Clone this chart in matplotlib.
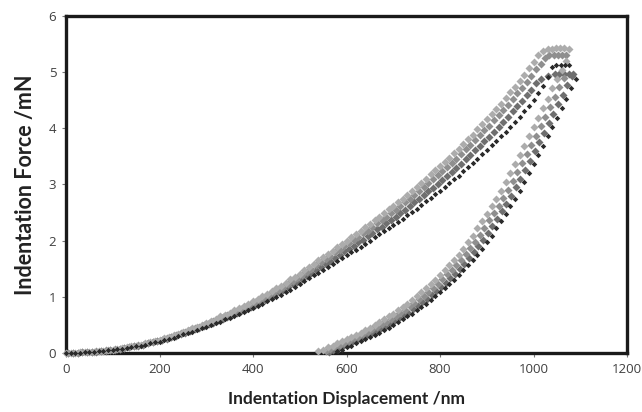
import matplotlib.pyplot as plt

plt.rcParams['font.family'] = ['Open Sans', 'DejaVu Sans']

# ---- data (displacement nm, force mN) --------------------------------------
x_grid_a = [0, 10, 20, 30, 40, 50, 60, 70, 80, 90, 100, 110, 120, 130, 140,
            150, 160, 170, 180, 190, 200, 210, 220, 230, 240, 250, 260, 270,
            280, 290, 300, 310, 320, 330, 340, 350, 360, 370, 380, 390, 400,
            410, 420, 430, 440, 450, 460, 470, 480, 490, 500, 510, 520, 530,
            540, 550, 560, 570, 580, 590, 600, 610, 620, 630, 640, 650, 660,
            670, 680, 690, 700, 710, 720, 730, 740, 750, 760, 770, 780, 790,
            800, 810, 820, 830, 840, 850, 860, 870, 880, 890, 900, 910, 920,
            930, 940, 950, 960, 970, 980, 990, 1000]
x_grid_b = [5, 15, 25, 35, 45, 55, 65, 75, 85, 95, 105, 115, 125, 135, 145,
            155, 165, 175, 185, 195, 205, 215, 225, 235, 245, 255, 265, 275,
            285, 295, 305, 315, 325, 335, 345, 355, 365, 375, 385, 395, 405,
            415, 425, 435, 445, 455, 465, 475, 485, 495, 505, 515, 525, 535,
            545, 555, 565, 575, 585, 595, 605, 615, 625, 635, 645, 655, 665,
            675, 685, 695, 705, 715, 725, 735, 745, 755, 765, 775, 785, 795,
            805, 815, 825, 835, 845, 855, 865, 875, 885, 895, 905, 915, 925,
            935, 945, 955, 965, 975, 985, 995, 1005]

# loading branches (four tests)
load_a = [0.00, 0.00, 0.00, 0.01, 0.01, 0.02, 0.02, 0.03, 0.04, 0.05, 0.06,
          0.07, 0.09, 0.10, 0.12, 0.13, 0.15, 0.17, 0.19, 0.21, 0.24, 0.26,
          0.29, 0.32, 0.34, 0.37, 0.41, 0.44, 0.47, 0.50, 0.54, 0.57, 0.61,
          0.65, 0.68, 0.72, 0.76, 0.80, 0.83, 0.88, 0.92, 0.96, 1.01, 1.05,
          1.10, 1.15, 1.20, 1.25, 1.31, 1.36, 1.41, 1.47, 1.53, 1.59, 1.65,
          1.71, 1.77, 1.82, 1.88, 1.94, 2.00, 2.06, 2.12, 2.18, 2.24, 2.30,
          2.36, 2.43, 2.49, 2.56, 2.62, 2.69, 2.75, 2.82, 2.89, 2.96, 3.03,
          3.10, 3.18, 3.25, 3.33, 3.40, 3.48, 3.56, 3.64, 3.72, 3.81, 3.89,
          3.98, 4.07, 4.16, 4.25, 4.34, 4.44, 4.54, 4.64, 4.74, 4.85, 4.95,
          5.07, 5.18]
load_b = [0.00, 0.00, 0.00, 0.01, 0.01, 0.02, 0.03, 0.04, 0.05, 0.06, 0.07,
          0.08, 0.09, 0.11, 0.12, 0.14, 0.15, 0.18, 0.20, 0.22, 0.24, 0.27,
          0.29, 0.32, 0.35, 0.38, 0.41, 0.44, 0.47, 0.50, 0.53, 0.57, 0.61,
          0.64, 0.68, 0.71, 0.75, 0.79, 0.82, 0.87, 0.91, 0.95, 0.99, 1.04,
          1.09, 1.13, 1.18, 1.23, 1.29, 1.34, 1.39, 1.44, 1.50, 1.56, 1.62,
          1.67, 1.73, 1.79, 1.84, 1.90, 1.96, 2.01, 2.07, 2.13, 2.18, 2.25,
          2.31, 2.37, 2.43, 2.49, 2.55, 2.62, 2.68, 2.75, 2.82, 2.88, 2.95,
          3.03, 3.10, 3.17, 3.24, 3.32, 3.39, 3.46, 3.54, 3.63, 3.71, 3.79,
          3.88, 3.97, 4.05, 4.14, 4.23, 4.32, 4.42, 4.52, 4.62, 4.72, 4.83,
          4.94, 5.05]
load_c = [0.00, 0.00, 0.00, 0.00, 0.01, 0.01, 0.02, 0.03, 0.04, 0.05, 0.06,
          0.07, 0.07, 0.09, 0.10, 0.12, 0.13, 0.15, 0.17, 0.19, 0.20, 0.23,
          0.25, 0.27, 0.30, 0.33, 0.35, 0.38, 0.41, 0.44, 0.47, 0.50, 0.53,
          0.56, 0.60, 0.63, 0.66, 0.69, 0.73, 0.76, 0.80, 0.84, 0.87, 0.92,
          0.96, 1.00, 1.04, 1.09, 1.13, 1.18, 1.23, 1.28, 1.33, 1.38, 1.43,
          1.48, 1.53, 1.59, 1.64, 1.69, 1.74, 1.79, 1.84, 1.89, 1.94, 2.00,
          2.06, 2.11, 2.17, 2.22, 2.28, 2.33, 2.39, 2.45, 2.51, 2.57, 2.63,
          2.70, 2.76, 2.83, 2.89, 2.96, 3.02, 3.09, 3.16, 3.24, 3.31, 3.39,
          3.46, 3.54, 3.62, 3.70, 3.78, 3.86, 3.94, 4.03, 4.12, 4.21, 4.31,
          4.40, 4.50]
load_d = [0.00, 0.00, 0.00, 0.01, 0.01, 0.02, 0.02, 0.03, 0.04, 0.05, 0.06,
          0.07, 0.09, 0.10, 0.12, 0.13, 0.15, 0.17, 0.19, 0.21, 0.23, 0.25,
          0.28, 0.30, 0.33, 0.36, 0.39, 0.42, 0.45, 0.48, 0.51, 0.54, 0.58,
          0.61, 0.64, 0.68, 0.71, 0.75, 0.78, 0.82, 0.86, 0.90, 0.94, 0.99,
          1.03, 1.08, 1.12, 1.17, 1.22, 1.27, 1.32, 1.37, 1.43, 1.48, 1.54,
          1.59, 1.64, 1.70, 1.75, 1.81, 1.86, 1.91, 1.97, 2.02, 2.08, 2.14,
          2.20, 2.25, 2.31, 2.37, 2.43, 2.49, 2.55, 2.61, 2.68, 2.74, 2.81,
          2.88, 2.94, 3.01, 3.08, 3.15, 3.22, 3.30, 3.37, 3.45, 3.53, 3.61,
          3.69, 3.77, 3.85, 3.94, 4.02, 4.11, 4.20, 4.30, 4.39, 4.49, 4.59,
          4.69, 4.80]

# end of loading + hold at peak force
peak_x_a = [1010, 1020, 1030, 1039, 1048, 1057, 1066, 1075]
peak_y_a = [5.30, 5.38, 5.42, 5.42, 5.43, 5.43, 5.43, 5.42]
peak_x_b = [1015, 1025, 1034, 1043, 1052, 1061, 1070]
peak_y_b = [5.15, 5.26, 5.30, 5.30, 5.31, 5.31, 5.30]
peak_x_c = [1010, 1020, 1030, 1040, 1049, 1058, 1067, 1076]
peak_y_c = [4.62, 4.76, 4.92, 5.10, 5.12, 5.12, 5.13, 5.12]
peak_x_d = [1015, 1030, 1045, 1055, 1065, 1075, 1085]
peak_y_d = [4.88, 4.93, 4.96, 4.97, 4.97, 4.97, 4.96]

# unloading branches
unl_x_a = [1070, 1060, 1050, 1040, 1030, 1020, 1010, 1000, 990, 980, 970,
           960, 950, 940, 930, 920, 910, 900, 890, 880, 870, 860, 850, 840,
           830, 820, 810, 800, 790, 780, 770, 760, 750, 740, 730, 720, 710,
           700, 690, 680, 670, 660, 650, 640, 630, 620, 610, 600, 590, 580,
           570, 560, 550, 540]
unl_y_a = [5.20, 5.04, 4.88, 4.71, 4.53, 4.36, 4.19, 4.02, 3.86, 3.69, 3.53,
           3.36, 3.20, 3.04, 2.89, 2.74, 2.61, 2.48, 2.35, 2.22, 2.09, 1.97,
           1.86, 1.75, 1.65, 1.56, 1.47, 1.39, 1.30, 1.22, 1.15, 1.08, 1.01,
           0.95, 0.88, 0.82, 0.76, 0.70, 0.65, 0.60, 0.55, 0.50, 0.45, 0.41,
           0.36, 0.32, 0.28, 0.25, 0.21, 0.17, 0.13, 0.10, 0.06, 0.03]
unl_x_b = [1065, 1055, 1045, 1035, 1025, 1015, 1005, 995, 985, 975, 965, 955,
           945, 935, 925, 915, 905, 895, 885, 875, 865, 855, 845, 835, 825,
           815, 805, 795, 785, 775, 765, 755, 745, 735, 725, 715, 705, 695,
           685, 675, 665, 655, 645, 635, 625, 615, 605, 595, 585, 575, 565,
           555]
unl_y_b = [4.90, 4.73, 4.55, 4.38, 4.21, 4.04, 3.87, 3.71, 3.54, 3.38, 3.22,
           3.06, 2.91, 2.76, 2.62, 2.49, 2.36, 2.23, 2.10, 1.98, 1.87, 1.76,
           1.66, 1.57, 1.48, 1.40, 1.31, 1.23, 1.16, 1.09, 1.02, 0.96, 0.89,
           0.83, 0.77, 0.71, 0.66, 0.61, 0.56, 0.51, 0.46, 0.42, 0.37, 0.33,
           0.29, 0.26, 0.22, 0.18, 0.14, 0.11, 0.07, 0.04]
unl_x_c = [1090, 1080, 1070, 1060, 1050, 1040, 1030, 1020, 1010, 1000, 990,
           980, 970, 960, 950, 940, 930, 920, 910, 900, 890, 880, 870, 860,
           850, 840, 830, 820, 810, 800, 790, 780, 770, 760, 750, 740, 730,
           720, 710, 700, 690, 680, 670, 660, 650, 640, 630, 620, 610, 600,
           590, 580]
unl_y_c = [4.88, 4.71, 4.53, 4.36, 4.19, 4.02, 3.86, 3.69, 3.53, 3.36, 3.20,
           3.04, 2.89, 2.74, 2.61, 2.48, 2.35, 2.22, 2.09, 1.97, 1.86, 1.75,
           1.65, 1.56, 1.47, 1.39, 1.30, 1.22, 1.15, 1.08, 1.01, 0.95, 0.88,
           0.82, 0.76, 0.70, 0.65, 0.60, 0.55, 0.50, 0.45, 0.41, 0.36, 0.32,
           0.28, 0.25, 0.21, 0.17, 0.13, 0.10, 0.06, 0.03]
unl_x_d = [1082, 1072, 1062, 1052, 1042, 1032, 1022, 1012, 1002, 992, 982,
           972, 962, 952, 942, 932, 922, 912, 902, 892, 882, 872, 862, 852,
           842, 832, 822, 812, 802, 792, 782, 772, 762, 752, 742, 732, 722,
           712, 702, 692, 682, 672, 662, 652, 642, 632, 622, 612, 602, 592,
           582, 572, 562]
unl_y_d = [4.93, 4.77, 4.60, 4.43, 4.26, 4.09, 3.92, 3.75, 3.59, 3.42, 3.26,
           3.10, 2.95, 2.80, 2.66, 2.52, 2.39, 2.26, 2.13, 2.01, 1.90, 1.79,
           1.69, 1.59, 1.50, 1.41, 1.33, 1.25, 1.17, 1.10, 1.03, 0.96, 0.90,
           0.84, 0.78, 0.72, 0.67, 0.62, 0.57, 0.52, 0.47, 0.43, 0.38, 0.34,
           0.30, 0.27, 0.23, 0.19, 0.15, 0.12, 0.08, 0.05, 0.02]

x_ticks = [0, 200, 400, 600, 800, 1000, 1200]
y_ticks = [0, 1, 2, 3, 4, 5, 6]

series = [
    (x_grid_b, load_d, peak_x_d, peak_y_d, unl_x_d, unl_y_d, '#6f6f6f', 4.0),
    (x_grid_b, load_b, peak_x_b, peak_y_b, unl_x_b, unl_y_b, '#8f8f8f', 4.2),
    (x_grid_a, load_a, peak_x_a, peak_y_a, unl_x_a, unl_y_a, '#acacac', 4.2),
    (x_grid_a, load_c, peak_x_c, peak_y_c, unl_x_c, unl_y_c, '#2a2a2a', 2.8),
]

fig = plt.figure(figsize=(6.42, 4.12), dpi=100)
ax = fig.add_axes([0.1028, 0.1432, 0.874, 0.818])

for lx, ly, px, py, ux, uy, col, ms in series:
    for xs, ys in ((lx, ly), (px, py), (ux, uy)):
        ax.plot(xs, ys, linestyle='none', marker='D', ms=ms,
                color=col, mec='none', clip_on=False, zorder=3)

ax.set_xlim(0, 1200)
ax.set_ylim(0, 6)
ax.set_xticks(x_ticks)
ax.set_yticks(y_ticks)
for s in ax.spines.values():
    s.set_linewidth(2.4)
    s.set_color('#1a1a1a')
ax.tick_params(direction='out', length=3, width=0.8, color='#777777',
               labelsize=9.5, labelcolor='#404040', pad=4)

ax.set_xlabel('Indentation Displacement /nm', fontsize=12.5,
              fontweight='bold', color='#222222', labelpad=11,
              family=['Lato', 'DejaVu Sans'])
ax.set_ylabel('Indentation Force /mN', fontsize=15.5,
              fontweight='bold', color='#222222', labelpad=9,
              family=['Lato', 'DejaVu Sans'])

fig.savefig('out.png', dpi=100, facecolor='white')
